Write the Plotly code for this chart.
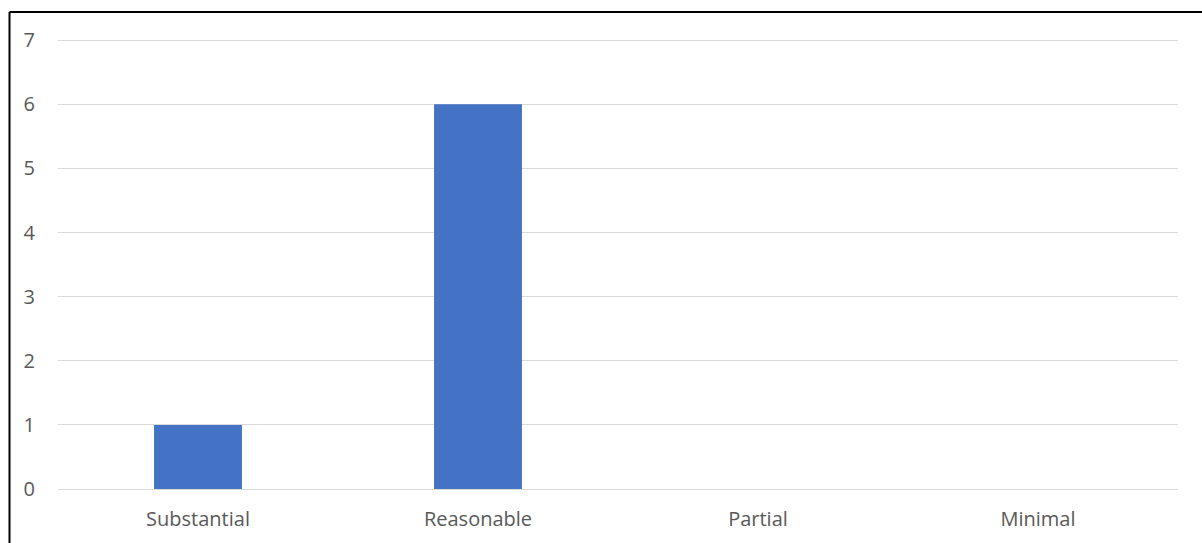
import plotly.graph_objects as go

categories = ["Substantial", "Reasonable", "Partial", "Minimal"]
values = [1, 6, 0, 0]
y_ticks = [0, 1, 2, 3, 4, 5, 6, 7]

W, H = 1202, 543
L, R, T, B = 58, 24, 37, 54
pw, ph = W - L - R, H - T - B

def px_x(px):
    return (px - L) / pw

def px_y(py):
    return (H - B - py) / ph

fig = go.Figure(go.Bar(x=categories, y=values, marker_color="#4472C4",
                       marker_line_width=0, width=0.314))

font = dict(family="Open Sans, Liberation Sans, sans-serif", size=20, color="#595959")

fig.update_layout(
    width=W, height=H,
    margin=dict(l=L, r=R, t=T, b=B, pad=0),
    paper_bgcolor="white", plot_bgcolor="white",
    showlegend=False,
    font=font,
    xaxis=dict(showgrid=False, showline=False, zeroline=False, ticks="",
               tickfont=font, ticklabelstandoff=16),
    yaxis=dict(range=[0, 7.05], tickvals=y_ticks, showgrid=True, gridcolor="#D9D9D9",
               gridwidth=1.3, zeroline=True, zerolinecolor="#D9D9D9", zerolinewidth=1.3,
               showline=False, ticks="", tickfont=font, ticklabelstandoff=22),
    shapes=[
        dict(type="line", xref="paper", yref="paper", x0=px_x(9.5), x1=px_x(1202),
             y0=px_y(12), y1=px_y(12), line=dict(color="black", width=2)),
        dict(type="line", xref="paper", yref="paper", x0=px_x(9.5), x1=px_x(9.5),
             y0=px_y(12), y1=px_y(543), line=dict(color="black", width=2)),
    ],
)

fig.write_html("out.html")
